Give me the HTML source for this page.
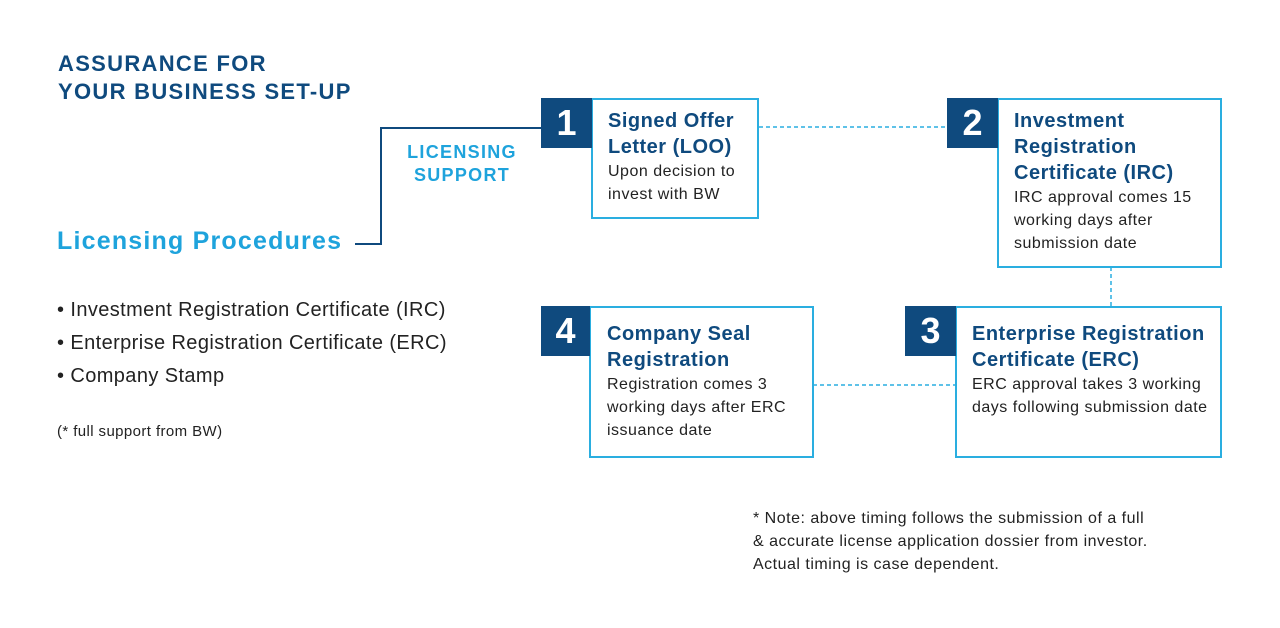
<!DOCTYPE html>
<html><head><meta charset="utf-8"><style>
body{margin:0;width:1280px;height:628px;background:#fff;position:relative;overflow:hidden;font-family:"Liberation Sans",Arial,sans-serif}
.a{position:absolute}
.num{position:absolute;background:#0f4a7e;color:#fff;font-weight:bold;font-size:36px;display:flex;align-items:center;justify-content:center}
.box{position:absolute;border:2px solid #2aaee0;box-sizing:border-box;background:#fff}
.h{color:#0f4a7e;font-weight:bold;font-size:20px;line-height:26px;letter-spacing:0.5px}
.t{color:#222;font-size:16px;line-height:23px;letter-spacing:0.5px}
.bl{font-size:20px;color:#222;line-height:33px;letter-spacing:0.4px}
</style></head><body>
<div class="a" style="left:58px;top:50px;color:#0f4a7e;font-weight:bold;font-size:22px;line-height:28px;letter-spacing:1.3px">ASSURANCE FOR<br>YOUR BUSINESS SET-UP</div>
<div class="a" style="left:57px;top:227px;color:#1ea3dc;font-weight:bold;font-size:25px;letter-spacing:1.2px">Licensing Procedures</div>
<svg class="a" style="left:0;top:0" width="1280" height="628">
<polyline points="355,244 381,244 381,128 541,128" fill="none" stroke="#0f4a7e" stroke-width="2"/>
<line x1="759" y1="127" x2="947" y2="127" stroke="#2aaee0" stroke-width="1.5" stroke-dasharray="4,3"/>
<line x1="1111" y1="267" x2="1111" y2="306" stroke="#2aaee0" stroke-width="1.5" stroke-dasharray="4,3"/>
<line x1="813" y1="385" x2="955" y2="385" stroke="#2aaee0" stroke-width="1.5" stroke-dasharray="4,3"/>
</svg>
<div class="a" style="left:387px;top:141px;width:150px;text-align:center;color:#1ea3dc;font-weight:bold;font-size:18px;line-height:23px;letter-spacing:1.3px">LICENSING<br>SUPPORT</div>
<div class="a bl" style="left:57px;top:294px">• Investment Registration Certificate (IRC)<br>• Enterprise Registration Certificate (ERC)<br>• Company Stamp</div>
<div class="a" style="left:57px;top:423px;font-size:15px;color:#222;letter-spacing:0.4px">(* full support from BW)</div>

<div class="box" style="left:591px;top:98px;width:168px;height:121px"><div class="a" style="left:15px;top:8px"><div class="h">Signed Offer<br>Letter (LOO)</div><div class="t">Upon decision to<br>invest with BW</div></div></div>
<div class="num" style="left:541px;top:98px;width:51px;height:50px">1</div>

<div class="box" style="left:997px;top:98px;width:225px;height:170px"><div class="a" style="left:15px;top:8px"><div class="h">Investment<br>Registration<br>Certificate (IRC)</div><div class="t">IRC approval comes 15<br>working days after<br>submission date</div></div></div>
<div class="num" style="left:947px;top:98px;width:51px;height:50px">2</div>

<div class="box" style="left:955px;top:306px;width:267px;height:152px"><div class="a" style="left:15px;top:13px"><div class="h">Enterprise Registration<br>Certificate (ERC)</div><div class="t">ERC approval takes 3 working<br>days following submission date</div></div></div>
<div class="num" style="left:905px;top:306px;width:51px;height:50px">3</div>

<div class="box" style="left:589px;top:306px;width:225px;height:152px"><div class="a" style="left:16px;top:13px"><div class="h">Company Seal<br>Registration</div><div class="t">Registration comes 3<br>working days after ERC<br>issuance date</div></div></div>
<div class="num" style="left:541px;top:306px;width:49px;height:50px">4</div>

<div class="a t" style="left:753px;top:507px">* Note: above timing follows the submission of a full<br>&amp; accurate license application dossier from investor.<br>Actual timing is case dependent.</div>
</body></html>
